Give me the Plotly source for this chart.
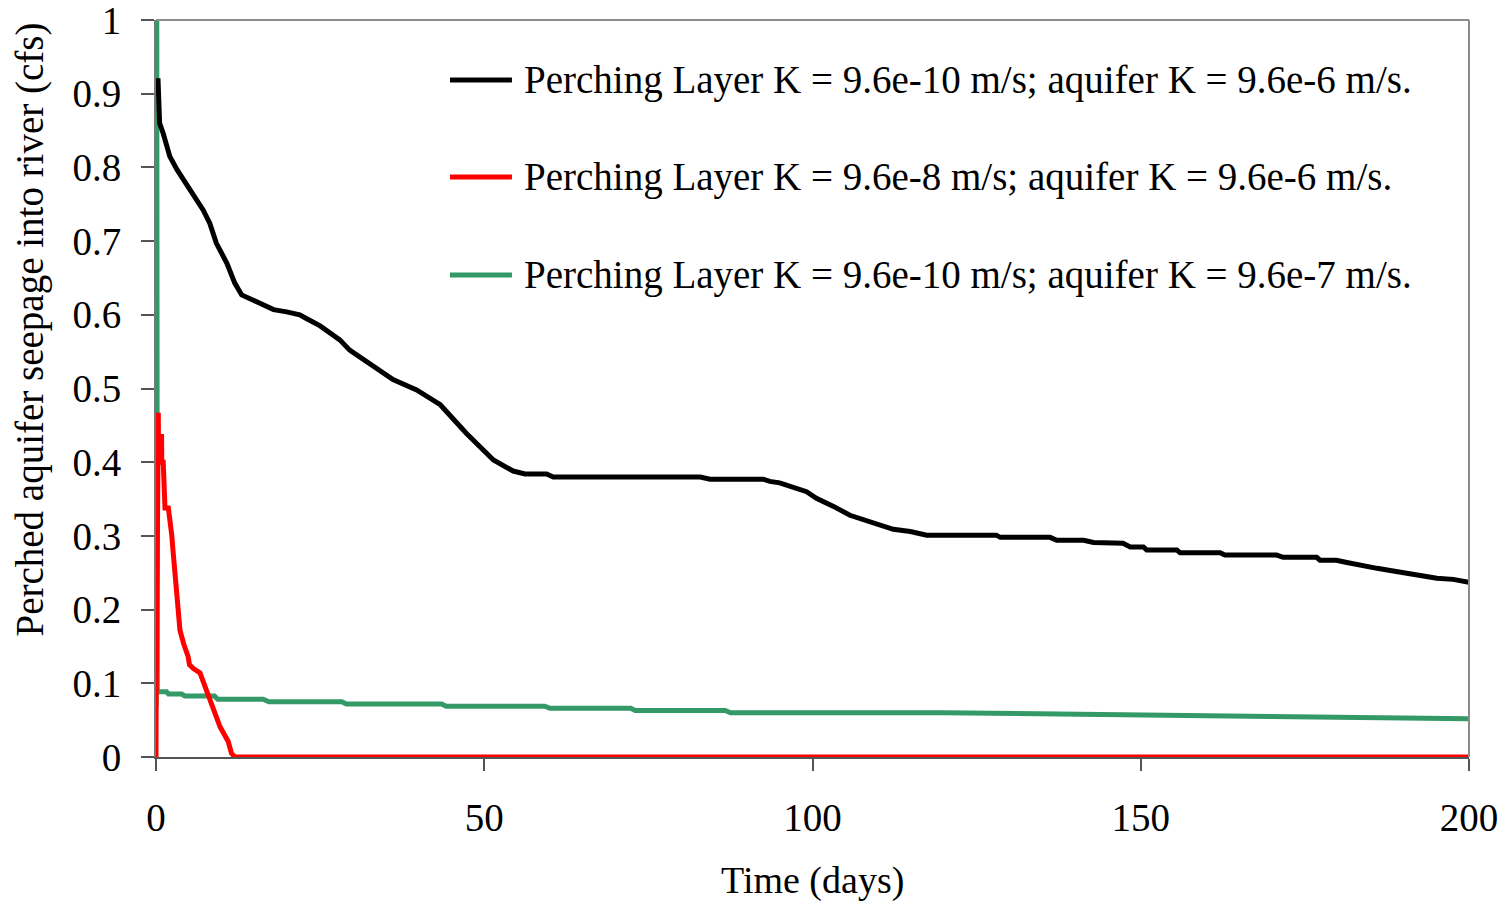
import plotly.graph_objects as go

# ---- data ----
black_t = [0.3, 0.35, 0.5, 0.55, 1.1, 2.1, 3.2, 4.2, 5.7, 7.2, 8.2, 9.2, 10.8, 12.0, 13.05,
           15.3, 17.9, 19.9, 21.9, 22.9, 25.0, 28.0, 29.5, 36.1, 39.7, 43.3, 47.3, 51.4,
           54.4, 56.2, 59.5, 60.5, 82.9, 84.4, 92.5, 93.5, 95.0, 99.1, 100.6, 103.2, 105.7,
           112.3, 114.9, 117.4, 128.0, 128.6, 136.2, 137.2, 141.3, 142.8, 147.3, 148.4,
           150.4, 150.9, 155.5, 156.0, 162.1, 162.8, 170.7, 171.7, 176.8, 177.3, 179.8,
           181.4, 183.9, 186.0, 188.0, 190.0, 192.0, 195.1, 197.6, 200.0]
black_q = [0.921, 0.880, 0.880, 0.860, 0.846, 0.815, 0.797, 0.783, 0.765, 0.742, 0.724, 0.697,
           0.670, 0.643, 0.627, 0.618, 0.607, 0.604, 0.600, 0.595, 0.585, 0.566, 0.552, 0.512,
           0.498, 0.478, 0.439, 0.403, 0.388, 0.384, 0.384, 0.380, 0.380, 0.377, 0.377, 0.374,
           0.372, 0.360, 0.351, 0.340, 0.328, 0.309, 0.306, 0.301, 0.301, 0.298, 0.298, 0.294,
           0.294, 0.291, 0.290, 0.285, 0.285, 0.281, 0.281, 0.277, 0.277, 0.274, 0.274, 0.271,
           0.271, 0.267, 0.267, 0.264, 0.2605, 0.256, 0.253, 0.250, 0.247, 0.2425, 0.241, 0.237]

red_t = [0.0, 0.02, 0.35, 0.37, 0.85, 0.88, 1.1, 1.15, 1.37, 1.88, 2.1, 2.4, 2.6, 2.9, 3.15,
         3.65, 4.2, 4.9, 5.1, 5.7, 6.7, 7.5, 8.7, 9.75, 11.0, 11.5, 12.0, 200.0]
red_q = [0.0, 0.068, 0.467, 0.435, 0.435, 0.400, 0.400, 0.367, 0.338, 0.338, 0.326, 0.301,
         0.279, 0.245, 0.222, 0.172, 0.154, 0.136, 0.125, 0.120, 0.114, 0.095, 0.064, 0.041,
         0.021, 0.005, 0.0, 0.0]

green_t = [0.0, 0.1, 0.2, 1.6, 1.9, 3.9, 4.4, 8.9, 9.4, 16.3, 17.2, 28.3, 29.0, 43.5, 44.2,
           59.2, 60.0, 72.3, 73.0, 86.7, 87.5, 120.0, 200.0]
green_q = [0.068, 1.2, 0.0886, 0.0886, 0.0855, 0.0855, 0.0828, 0.0828, 0.0783, 0.0783, 0.075,
           0.075, 0.072, 0.072, 0.069, 0.069, 0.066, 0.066, 0.063, 0.063, 0.060, 0.060, 0.052]

series_names = [
    "Perching Layer K = 9.6e-10 m/s; aquifer K = 9.6e-6 m/s.",
    "Perching Layer K = 9.6e-8 m/s; aquifer K = 9.6e-6 m/s.",
    "Perching Layer K = 9.6e-10 m/s; aquifer K = 9.6e-7 m/s.",
]
series_colors = ["#000000", "#ff0000", "#339966"]

x_ticks = [0, 50, 100, 150, 200]
y_ticks = [0, 0.1, 0.2, 0.3, 0.4, 0.5, 0.6, 0.7, 0.8, 0.9, 1]
y_tick_text = ["0", "0.1", "0.2", "0.3", "0.4", "0.5", "0.6", "0.7", "0.8", "0.9", "1"]

FONT = "Liberation Serif, Times New Roman, serif"
LW = 5

fig = go.Figure()
fig.add_trace(go.Scatter(x=green_t, y=green_q, mode="lines", name=series_names[2],
                         line=dict(color=series_colors[2], width=LW), showlegend=False))
fig.add_trace(go.Scatter(x=black_t, y=black_q, mode="lines", name=series_names[0],
                         line=dict(color=series_colors[0], width=LW), showlegend=False))
fig.add_trace(go.Scatter(x=red_t, y=red_q, mode="lines", name=series_names[1],
                         line=dict(color=series_colors[1], width=LW), showlegend=False))

# manual legend (inside the plot, no frame)
leg_y = [0.9186, 0.7870, 0.6540]
shapes = []
annotations = []
for name, col, yy in zip(series_names, series_colors, leg_y):
    shapes.append(dict(type="line", xref="paper", yref="paper", x0=0.2239, x1=0.2711,
                       y0=yy, y1=yy, line=dict(color=col, width=LW)))
    annotations.append(dict(text=name, xref="paper", yref="paper", x=0.2788, y=yy,
                            xanchor="left", yanchor="middle", showarrow=False,
                            font=dict(family=FONT, size=39, color="black")))

# top and right frame lines (light gray)
shapes.append(dict(type="line", xref="paper", yref="paper", x0=0, x1=1, y0=1, y1=1,
                   line=dict(color="#8c8c8c", width=2)))
shapes.append(dict(type="line", xref="paper", yref="paper", x0=1, x1=1, y0=0, y1=1,
                   line=dict(color="#8c8c8c", width=2)))

# axis titles
annotations.append(dict(text="Time (days)", xref="paper", yref="paper", x=0.5, y=-0.1669,
                        xanchor="center", yanchor="middle", showarrow=False,
                        font=dict(family=FONT, size=38, color="black")))
annotations.append(dict(text="Perched aquifer seepage into river (cfs)", xref="paper",
                        yref="paper", x=-0.096, y=0.5800, xanchor="center", yanchor="middle",
                        textangle=-90, showarrow=False,
                        font=dict(family=FONT, size=39, color="black")))

fig.update_layout(
    width=1505, height=901,
    margin=dict(l=156, r=36, t=20, b=144, autoexpand=False),
    paper_bgcolor="white", plot_bgcolor="white",
    showlegend=False,
    shapes=shapes, annotations=annotations,
    font=dict(family=FONT, size=39, color="black"),
)
fig.update_xaxes(range=[0, 200], tickvals=x_ticks, ticks="outside", ticklen=12, tickwidth=1.5,
                 tickcolor="#555555", showline=True, linecolor="#555555", linewidth=2,
                 showgrid=False, zeroline=False, layer="below traces", automargin=False,
                 ticklabeloverflow="allow",
                 tickfont=dict(family=FONT, size=39, color="black"), ticklabelstandoff=13)
fig.update_yaxes(range=[0, 1], tickvals=y_ticks, ticktext=y_tick_text, ticks="outside",
                 ticklen=13, tickwidth=1.5, tickcolor="#555555", showline=True,
                 linecolor="#777777", linewidth=2, showgrid=False, zeroline=False,
                 layer="below traces", ticklabeloverflow="allow", automargin=False,
                 tickfont=dict(family=FONT, size=39, color="black"), ticklabelstandoff=12)

fig.write_html("out.html", config={"displayModeBar": False},
               post_script="document.body.style.margin='0';")
